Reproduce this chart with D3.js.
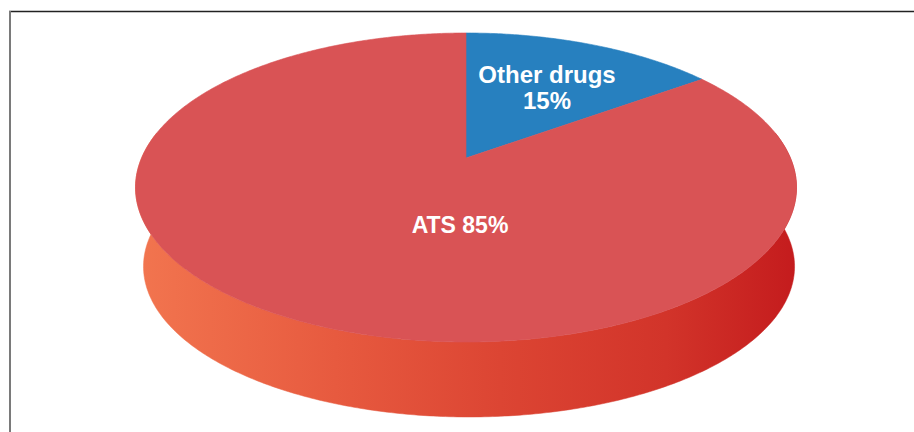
<!DOCTYPE html>
<html>
<head>
<meta charset="utf-8">
<script src="https://cdn.jsdelivr.net/npm/d3@7/dist/d3.min.js"></script>
<style>
  html, body { margin: 0; padding: 0; background: #fff; }
  svg { display: block; }
</style>
</head>
<body>
<svg id="chart" width="914" height="432"></svg>
<script>
// ---- data ----
const categories = ["Other drugs", "ATS"];
const values = [15, 85];
const labelLines = [["Other drugs", "15%"], ["ATS 85%"]];
const topColors = ["#2780BF", "#D95355"];

// ---- 3D perspective setup ----
const W = 914, H = 432;
const cx = 466, cy = 158;          // projected pie centre (top face)
const sinPhi = 0.4589, cosPhi = Math.sqrt(1 - sinPhi * sinPhi);
const D = 4.653, F = 1509.5;       // camera distance, focal length (R = 1)

function projectTop(theta, r) {
  const X = r * Math.sin(theta), Y = r * Math.cos(theta);
  const yc = Y * sinPhi;
  const zc = D + Y * cosPhi;
  return [cx + F * X / zc, cy - F * yc / zc];
}
// bottom rim: top rim shifted down, slightly narrowed / flattened
const topMidX = 467.5, topMidY = 187, botMidX = 470.5, drop = 79, sx = 0.985, sy = 0.974;
function projectBottom(theta) {
  const [x, y] = projectTop(theta, 1);
  return [botMidX + sx * (x - topMidX), topMidY + drop + sy * (y - topMidY)];
}

const svg = d3.select("#chart");

// frame
svg.append("line").attr("x1", 9).attr("x2", W).attr("y1", 11.5).attr("y2", 11.5)
  .attr("stroke", "#222").attr("stroke-width", 1.5);
svg.append("line").attr("x1", 10).attr("x2", 10).attr("y1", 11).attr("y2", H)
  .attr("stroke", "#7a7a7a").attr("stroke-width", 2);

// side gradient
const defs = svg.append("defs");
const grad = defs.append("linearGradient").attr("id", "sideGrad")
  .attr("gradientUnits", "userSpaceOnUse")
  .attr("x1", 137).attr("x2", 798).attr("y1", 0).attr("y2", 0);
[[0, "#F2754F"], [0.3, "#E75A3F"], [0.55, "#DC4533"], [0.8, "#D2342A"], [1, "#C41B1D"]]
  .forEach(([o, c]) => grad.append("stop").attr("offset", o).attr("stop-color", c));

const pie = d3.pie().sort(null).value(d => d)(values);
const line = d3.line();

function steps(a0, a1) {
  const n = Math.max(8, Math.ceil((a1 - a0) / 0.01));
  return d3.range(n + 1).map(i => a0 + (a1 - a0) * i / n);
}

// side walls (front-facing part of each slice)
const front0 = 80 * Math.PI / 180, front1 = 280 * Math.PI / 180;
pie.forEach(p => {
  const a0 = Math.max(p.startAngle, front0), a1 = Math.min(p.endAngle, front1);
  if (a1 <= a0) return;
  const a = steps(a0, a1);
  const pts = a.map(t => projectTop(t, 1)).concat(a.slice().reverse().map(projectBottom));
  svg.append("path").attr("d", line(pts) + "Z")
    .attr("fill", "url(#sideGrad)").attr("stroke", "url(#sideGrad)").attr("stroke-width", 0.5);
});

// top faces
pie.forEach((p, i) => {
  const pts = [projectTop(0, 0)].concat(steps(p.startAngle, p.endAngle).map(t => projectTop(t, 1)));
  svg.append("path").attr("d", line(pts) + "Z")
    .attr("fill", topColors[i]).attr("stroke", topColors[i]).attr("stroke-width", 0.6)
    .attr("stroke-linejoin", "round");
});

// labels
const labelPos = [[547, 83, 24, 26], [460, 233, 23, 0]];
labelLines.forEach((lines, i) => {
  const [x, y, fs, lh] = labelPos[i];
  const t = svg.append("text").attr("x", x).attr("y", y)
    .attr("text-anchor", "middle").attr("fill", "#fff")
    .attr("font-family", "'Liberation Sans', Arial, sans-serif")
    .attr("font-weight", "bold").attr("font-size", fs);
  lines.forEach((s, j) => {
    t.append("tspan").attr("x", x).attr("dy", j === 0 ? 0 : lh).text(s);
  });
});
</script>
</body>
</html>
